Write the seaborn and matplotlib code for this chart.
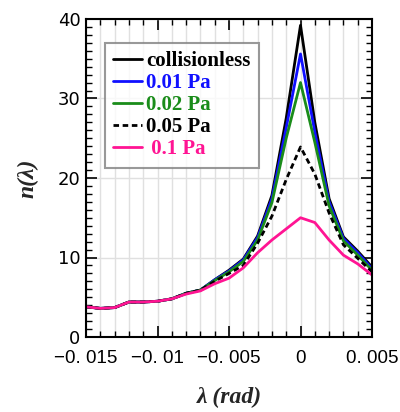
import numpy as np
import pandas as pd
import matplotlib
matplotlib.use("Agg")
import matplotlib.pyplot as plt
import seaborn as sns
from matplotlib.ticker import MultipleLocator

# angle lambda (rad), every 0.001
lam = [-0.015, -0.014, -0.013, -0.012, -0.011, -0.010, -0.009, -0.008, -0.007,
       -0.006, -0.005, -0.004, -0.003, -0.002, -0.001, 0.0,
       0.001, 0.002, 0.003, 0.004, 0.005]

n_collisionless = [3.8, 3.6, 3.7, 4.4, 4.4, 4.5, 4.8, 5.5, 5.9,
                   7.2, 8.4, 9.8, 12.7, 17.8, 27.5, 39.2,
                   27.0, 17.4, 12.6, 10.8, 8.8]
n_001 = [3.8, 3.6, 3.7, 4.4, 4.4, 4.5, 4.8, 5.5, 5.9,
         7.2, 8.3, 9.7, 12.5, 17.4, 26.3, 35.6,
         25.8, 17.0, 12.4, 10.6, 8.6]
n_002 = [3.8, 3.6, 3.7, 4.4, 4.4, 4.5, 4.8, 5.5, 5.9,
         7.1, 8.2, 9.5, 12.2, 16.9, 25.0, 32.0,
         24.5, 16.5, 12.1, 10.3, 8.4]
n_005 = [3.8, 3.6, 3.7, 4.4, 4.4, 4.5, 4.8, 5.5, 5.9,
         7.0, 8.0, 9.0, 11.8, 15.2, 19.8, 23.9,
         20.5, 15.6, 11.6, 9.9, 8.2]
n_01 = [3.8, 3.6, 3.7, 4.4, 4.4, 4.5, 4.8, 5.4, 5.8,
        6.7, 7.4, 8.7, 10.6, 12.2, 13.6, 15.0,
        14.4, 12.2, 10.3, 9.2, 7.8]

labels = ["collisionless", "0.01 Pa", "0.02 Pa", "0.05 Pa", " 0.1 Pa"]
colors = ["black", "#1010ff", "#1a8c1a", "black", "#ff1493"]
styles = ["-", "-", "-", (0, (2, 1.3)), "-"]
series = [n_collisionless, n_001, n_002, n_005, n_01]

xtick_vals = [-0.015, -0.01, -0.005, 0, 0.005]
xtick_text = ["\u22120. 015", "\u22120. 01", "\u22120. 005", "0", "0. 005"]

sns.set_style("white")
plt.rcParams["font.family"] = ["Liberation Sans", "DejaVu Sans"]

fig = plt.figure(figsize=(4.0, 4.12), dpi=100)
ax = fig.add_axes([0.215, 0.182, 0.715, 0.772])

for vals, lab, col, ls in zip(series, labels, colors, styles):
    sns.lineplot(x=lam, y=vals, color=col, linestyle=ls, linewidth=2,
                 label=lab, ax=ax)

ax.set_xlim(-0.015, 0.005)
ax.set_ylim(0, 40)
ax.xaxis.set_minor_locator(MultipleLocator(0.001))
ax.yaxis.set_major_locator(MultipleLocator(10))
ax.yaxis.set_minor_locator(MultipleLocator(1))
ax.set_xticks(xtick_vals)
ax.set_xticklabels(xtick_text)

ax.grid(which="both", axis="x", color="#e0e0e0", linewidth=1)
ax.grid(which="major", axis="y", color="#e0e0e0", linewidth=1)
ax.set_axisbelow(True)

ax.tick_params(which="both", direction="in", top=True, right=True,
               bottom=True, left=True, colors="black")
ax.tick_params(which="major", length=8, width=1.2)
ax.tick_params(which="minor", length=4, width=1)
ax.tick_params(axis="x", which="major", labelsize=13.5, pad=9)
ax.tick_params(axis="y", which="major", labelsize=13, pad=4)
for t in ax.get_yticklabels():
    t.set_family("DejaVu Sans")
for s in ax.spines.values():
    s.set_color("black")
    s.set_linewidth(1.5)

ax.set_xlabel("\u03bb (rad)", fontsize=17, fontweight="bold", style="italic",
              family="Liberation Serif", labelpad=15)
ax.set_ylabel("n(\u03bb)", fontsize=17, fontweight="bold", style="italic",
              family="Liberation Serif", labelpad=14)

leg = ax.legend(loc="upper left", bbox_to_anchor=(0.065, 0.925),
                prop={"family": "Liberation Serif", "weight": "bold", "size": 15},
                frameon=True, fancybox=False, edgecolor="#808080",
                handlelength=1.4, handletextpad=0.2, labelspacing=0.1,
                borderpad=0.4, borderaxespad=0)
leg.get_frame().set_linewidth(1.5)
for txt, col in zip(leg.get_texts(), colors):
    txt.set_color(col)

fig.savefig("out.png", dpi=100)
